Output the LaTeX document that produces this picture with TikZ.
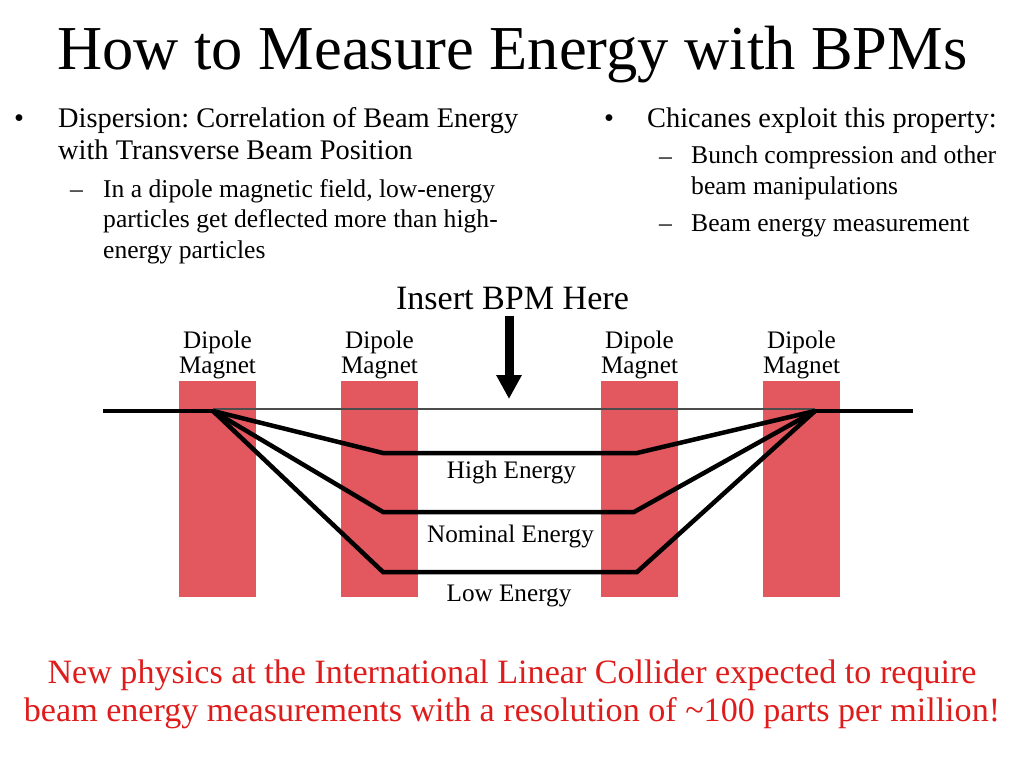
\documentclass[tikz,border=0pt]{standalone}
\usepackage{fontspec}
\setmainfont{Liberation Serif}
\usetikzlibrary{arrows.meta, positioning}
\definecolor{magred}{RGB}{226,88,94}
\definecolor{notered}{RGB}{222,28,28}
\frenchspacing

\begin{document}
\begin{tikzpicture}[x=1pt, y=-1pt, inner sep=0pt,
	magnet/.style={fill=magred, minimum width=77pt, minimum height=216pt},
	maglbl/.style={align=center, font=\fontsize{25.2}{24.5}\selectfont},
	beam/.style={line width=4.5pt},
	elbl/.style={anchor=base, font=\fontsize{25.2}{30}\selectfont},
	itm/.style={anchor=base west, align=left, font=\fontsize{28.4}{32}\selectfont},
	subitm/.style={anchor=base west, align=left, font=\fontsize{25.6}{30.5}\selectfont}]
\useasboundingbox (0,0) rectangle (1024,768);

\node[anchor=base, font=\fontsize{62.5}{70}\selectfont] (title) at (512.5,70) {How to Measure Energy with BPMs};

% left column (base = last line)
\node[itm] (b1) at (14,127) {\textbullet};
\node[itm] (t1) at (58,159) {Dispersion: Correlation of Beam Energy\\with Transverse Beam Position};
\node[subitm] (d1) at (70,197) {\textendash};
\node[subitm] (s1) at (103,258) {In a dipole magnetic field, low-energy\\particles get deflected more than high-\\energy particles};

% right column
\node[itm] (b2) at (604,127) {\textbullet};
\node[itm] (t2) at (647,127) {Chicanes exploit this property:};
\node[subitm] (d2) at (659,164) {\textendash};
\node[subitm] (s2) at (691,194) {Bunch compression and other\\beam manipulations};
\node[subitm] (d3) at (659,231) {\textendash};
\node[subitm] (s3) at (691,231) {Beam energy measurement};

% chicane
\node[magnet] (m1) at (217.5,489) {};
\node[magnet] (m2) at (379.5,489) {};
\node[magnet] (m3) at (639.5,489) {};
\node[magnet] (m4) at (801.5,489) {};
\foreach \m in {m1,m2,m3,m4}
  \node[maglbl, above=2pt of \m] {Dipole\\Magnet};

\node[anchor=base, inner ysep=6pt, font=\fontsize{34.1}{40}\selectfont] (bpm) at (512.5,309) {Insert BPM Here};
\coordinate (bpmtip) at (509,399);
\draw[line width=9pt, -{Triangle[width=24pt,length=24pt]}] (bpm.south -| bpmtip) -- (bpmtip);

\coordinate (in) at (103,411);
\coordinate (kickL) at (213,411);
\coordinate (kickR) at (815,411);
\coordinate (out) at (913,411);
\coordinate (hiL) at (383,453);
\coordinate (hiR) at (637,453);
\coordinate (nomL) at (383,512);
\coordinate (nomR) at (634,512);
\coordinate (loL) at (383,572);
\coordinate (loR) at (637,572);

\draw[gray!60!black, line width=1.2pt] (kickL |- 0,409) -- (kickR |- 0,409);
\draw[beam] (in) -- (kickL);
\draw[beam] (kickR) -- (out);
\draw[beam] (kickL) -- (hiL) -- (hiR) -- (kickR);
\draw[beam] (kickL) -- (nomL) -- (nomR) -- (kickR);
\draw[beam] (kickL) -- (loL) -- (loR) -- (kickR);

\node[elbl] (hi) at (511.5,478) {High Energy};
\node[elbl] (nom) at (510.5,542) {Nominal Energy};
\node[elbl] (lo) at (509,601) {Low Energy};

\node[anchor=base, align=center, text=notered, font=\fontsize{34.1}{38.5}\selectfont] (note) at (512,721.5)
  {New physics at the International Linear Collider expected to require\\beam energy measurements with a resolution of \textasciitilde100 parts per million!};
\end{tikzpicture}
\end{document}
